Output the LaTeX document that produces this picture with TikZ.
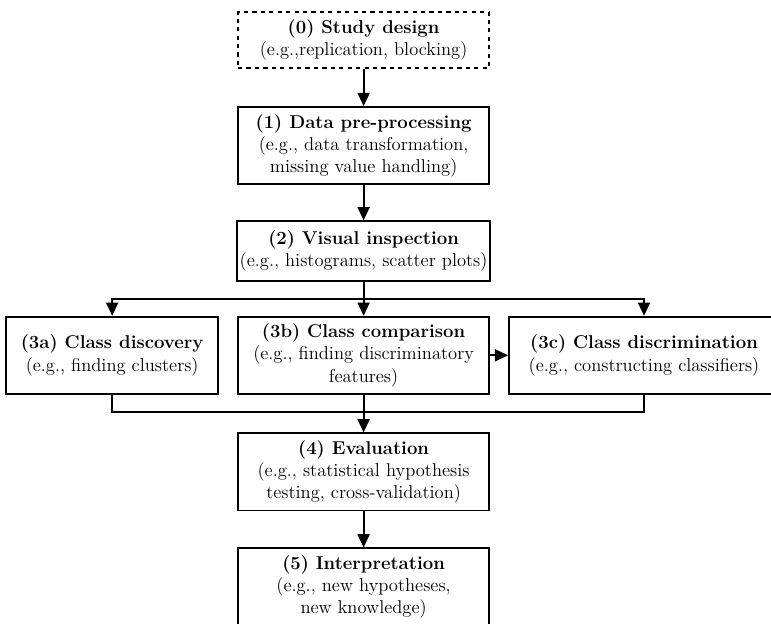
\documentclass[tikz,border=0pt]{standalone}
\usepackage{tikz}
\usetikzlibrary{arrows.meta,positioning}

\begin{document}
\begin{tikzpicture}[
  node distance=0.95cm and 0.45cm,
  every node/.style={font=\fontsize{13.2}{15.8}\selectfont, align=center},
  stage/.style={draw, line width=1.3pt, minimum width=6.28cm, minimum height=1.93cm, inner sep=2pt},
  shortstage/.style={stage, minimum height=1.5cm},
  design/.style={stage, dashed, minimum height=1.4cm},
  edge/.style={-{Triangle[length=3.3mm, width=3mm]}, line width=1.3pt},
  joint/.style={line width=1.3pt}
]
\useasboundingbox (0,0) rectangle (19.275,-15.575);

\node[design] (s0) at (9.09,-1.0) {\textbf{(0) Study design}\\(e.g.,replication, blocking)};
\node[stage, below=0.93cm of s0] (s1) {\textbf{(1) Data pre-processing}\\(e.g., data transformation,\\missing value handling)};
\node[shortstage, below=0.88cm of s1] (s2) {\textbf{(2) Visual inspection}\\(e.g., histograms, scatter plots)};
\node[stage, below=0.84cm of s2] (s3b) {\textbf{(3b) Class comparison}\\(e.g., finding discriminatory\\features)};
\node[stage, minimum width=5.3cm, left=of s3b] (s3a) {\textbf{(3a) Class discovery}\\(e.g., finding clusters)};
\node[stage, minimum width=6.75cm, right=of s3b] (s3c) {\textbf{(3c) Class discrimination}\\(e.g., constructing classifiers)};
\node[stage, below=0.94cm of s3b] (s4) {\textbf{(4) Evaluation}\\(e.g., statistical hypothesis\\testing, cross-validation)};
\node[stage, below=0.9cm of s4] (s5) {\textbf{(5) Interpretation}\\(e.g., new hypotheses,\\new knowledge)};

\coordinate[below=0.43cm of s2] (split);
\coordinate[above=0.5cm of s4] (join);

\draw[edge] (s0) -- (s1);
\draw[edge] (s1) -- (s2);
\draw[joint] (s2) -- (split);
\draw[edge] (split) -| (s3a);
\draw[edge] (split) -- (s3b);
\draw[edge] (split) -| (s3c);
\draw[edge] (s3b) -- (s3c);
\draw[joint] (s3a) |- (join);
\draw[joint] (s3c) |- (join);
\draw[edge] (s3b) -- (s4);
\draw[edge] (s4) -- (s5);
\end{tikzpicture}
\end{document}
